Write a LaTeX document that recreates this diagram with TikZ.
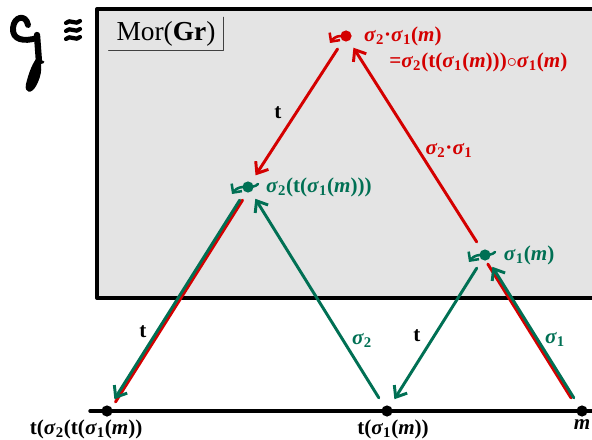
\documentclass[tikz,border=0pt]{standalone}
\usepackage{fontspec}
\setmainfont{Liberation Serif}
\usetikzlibrary{arrows.meta,positioning,calc}
\definecolor{grred}{RGB}{212,0,0}
\definecolor{grgreen}{RGB}{0,112,84}
\definecolor{boxgray}{RGB}{228,228,228}
\newcommand\sig[1]{\textit{σ}\textsubscript{#1}}
\newcommand\mm{\textit{m}}
\tikzset{
  pt/.style={circle,fill,inner sep=0pt,minimum size=0.28cm},
  lbl/.style={font=\fontsize{15}{17}\selectfont\bfseries,inner sep=0pt},
  arr/.style={->,line width=2.1pt,shorten <=0.24cm,shorten >=0.2cm},
  under/.style={line width=2.1pt,shorten <=0.24cm,shorten >=0.12cm},
  curl/.style={-{Straight Barb[length=1.6mm,width=3.2mm]},line width=1.8pt}
}
\begin{document}
\begin{tikzpicture}[x=0.025cm,y=-0.025cm,>={Straight Barb[length=2.4mm,width=3.8mm]},line cap=round,line join=round]
 \useasboundingbox (0,0) rectangle (592,440);
 % grey box
 \fill[boxgray] (97,9) rectangle (592,298);
 \draw[line width=2.4pt] (592,9) -| (97,298) -- (592,298);
 \node[font=\fontsize{19.5}{22}\selectfont,inner xsep=0.19cm,inner ysep=0.1cm] (mor) at (166,34) {Mor(\textbf{Gr})};
 \draw[line width=0.8pt,black!75] (mor.north east) |- (mor.south west);
 % hand written G
 \draw[line width=4.2pt] (28,25) .. controls (26,14) and (14,16) .. (13,28) .. controls (12,40) and (24,42) .. (37,38);
 \draw[line width=4.5pt] (37,35) -- (39,62);
 \draw[line width=2pt] (38,63) -- (43,62);
 \fill (36,59) .. controls (44,60) and (42,76) .. (36,86) .. controls (32,94) and (24,94) .. (26,84) .. controls (28,76) and (31,66) .. (36,59) -- cycle;
 \foreach \y in {22,30,38}
   \draw[line width=3pt] (66,\y+1) .. controls (70,\y-4) and (76,\y+4) .. (80,\y-1);
 % points
 \node[pt,grred] (top) at (346,36) {};
 \node[pt,grgreen] (mid) at (248,187) {};
 \node[pt,grgreen] (s1m) at (485,255) {};
 \draw[line width=2.4pt] (90,411) -- (592,411);
 \node[pt] (bl) at (107,411) {};
 \node[pt] (bm) at (387,411) {};
 \node[pt] (br) at (582,411) {};
 % arrows
 \draw[arr,grred] (top) -- (mid);
 \draw[arr,grred] (s1m) -- (top);
 \draw[under,grred,transform canvas={xshift=0.07cm}] (mid) -- (bl);
 \draw[arr,grgreen] (mid) -- (bl);
 \draw[arr,grgreen] (bm) -- (mid);
 \draw[arr,grgreen] (s1m) -- (bm);
 \draw[under,grred,transform canvas={xshift=-0.07cm}] (br) -- (s1m);
 \draw[arr,grgreen] (br) -- (s1m);
 % curls
 \draw[curl,grred] ($(top)+(4,0)$) .. controls ($(top)+(1,3)$) and ($(top)+(-8,-4)$) .. ($(top)+(-16,7)$);
 \foreach \p in {mid,s1m}
   \draw[curl,grgreen] ($(\p)+(10,-3)$) .. controls ($(\p)+(5,3)$) and ($(\p)+(-8,-4)$) .. ($(\p)+(-16,7)$);
 % labels
 \node[lbl,grred,right=0.3cm of top] (toplbl) {\sig2·\sig1(\mm)};
 \node[lbl,grred,anchor=west] (topeq) at (389,62) {=\sig2(t(\sig1(\mm)))$\circ$\sig1(\mm)};
 \node[lbl,grgreen,right=0.3cm of mid] (midlbl) {\sig2(t(\sig1(\mm)))};
 \node[lbl,grgreen,right=0.32cm of s1m] (s1mlbl) {\sig1(\mm)};
 \node[lbl,below=0.07cm of bl,xshift=-0.52cm] (bllbl) {t(\sig2(t(\sig1(\mm))};
 \node[lbl,below=0.07cm of bm,xshift=0.15cm] (bmlbl) {t(\sig1(\mm))};
 \node[lbl,below=0.05cm of br] (brlbl) {\mm};
 \node[lbl] (t1) at (278,113) {t};
 \node[lbl,grred] (s21) at (449,150) {\sig2·\sig1};
 \node[lbl] (t2) at (143,332) {t};
 \node[lbl,grgreen] (s2) at (362,340) {\sig2};
 \node[lbl] (t3) at (417,336) {t};
 \node[lbl,grgreen] (s1) at (555,339) {\sig1};
\end{tikzpicture}
\end{document}
